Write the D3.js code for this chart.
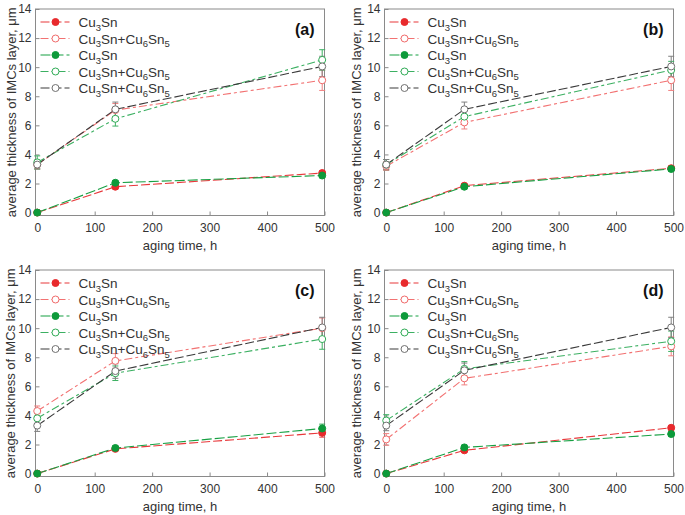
<!DOCTYPE html>
<html><head><meta charset="utf-8">
<script src="https://cdn.jsdelivr.net/npm/d3@7"></script>
<style>
html,body{margin:0;padding:0;background:#fff;}
svg{display:block;font-family:"Liberation Sans",Arial,sans-serif;}
</style></head>
<body><svg id="c" width="685" height="515"></svg>
<script>
// ---------------- data ----------------
const agingTimes = [0, 136, 496];                 // h
const xTicks = [0, 100, 200, 300, 400, 500];
const yTicks = [0, 2, 4, 6, 8, 10, 12, 14];
const panelLabels = ["(a)", "(b)", "(c)", "(d)"];
// legend names: [main text, subscript] pieces
const seriesNames = [
  [["Cu","3"],["Sn",""]],
  [["Cu","3"],["Sn+Cu","6"],["Sn","5"]],
  [["Cu","3"],["Sn",""]],
  [["Cu","3"],["Sn+Cu","6"],["Sn","5"]],
  [["Cu","3"],["Sn+Cu","6"],["Sn","5"]]
];
// series order: red Cu3Sn, red Cu3Sn+Cu6Sn5, green Cu3Sn, green Cu3Sn+Cu6Sn5, gray Cu3Sn+Cu6Sn5
const valuesA = [[0, 1.78, 2.72], [3.3, 7.05, 9.1], [0, 2.05, 2.55], [3.45, 6.45, 10.5], [3.3, 7.1, 10.05]];
const errorsA = [[0.05, 0.15, 0.15], [0.3, 0.45, 0.7], [0.05, 0.15, 0.15], [0.45, 0.5, 0.7], [0.3, 0.5, 0.7]];
const valuesB = [[0, 1.85, 3.05], [3.2, 6.2, 9.1], [0, 1.78, 3.0], [3.3, 6.6, 9.8], [3.3, 7.1, 10.05]];
const errorsB = [[0.05, 0.15, 0.15], [0.3, 0.45, 0.7], [0.05, 0.15, 0.15], [0.35, 0.45, 0.6], [0.35, 0.5, 0.7]];
const valuesC = [[0, 1.7, 2.8], [4.3, 7.75, 10.0], [0, 1.76, 3.1], [3.8, 6.9, 9.25], [3.3, 7.05, 10.05]];
const errorsC = [[0.05, 0.12, 0.3], [0.35, 0.5, 0.7], [0.05, 0.15, 0.3], [0.35, 0.5, 0.7], [0.4, 0.5, 0.7]];
const valuesD = [[0, 1.6, 3.15], [2.35, 6.55, 8.75], [0, 1.8, 2.72], [3.65, 7.2, 9.1], [3.3, 7.1, 10.05]];
const errorsD = [[0.05, 0.12, 0.15], [0.4, 0.45, 0.65], [0.05, 0.15, 0.15], [0.4, 0.5, 0.7], [0.35, 0.5, 0.7]];
const yTitle = "average thickness of IMCs layer, μm";
const xTitle = "aging time, h";

// ---------------- styling ----------------
const styles = [
  {line:"#e8383b", mk:"#e82a2d", fill:"#e82a2d", err:"#e8585a", dash:"9,3"},
  {line:"#f27272", mk:"#f06a6a", fill:"#fff",    err:"#f08080", dash:"8,3,3,3"},
  {line:"#17a043", mk:"#0d9a3a", fill:"#0d9a3a", err:"#2aa650", dash:"10,3"},
  {line:"#3cb062", mk:"#2fab55", fill:"#fff",    err:"#3cb062", dash:"8,3,3,3"},
  {line:"#3a3a3a", mk:"#707070", fill:"#fff",    err:"#808080", dash:"9,3"}
];
const panelValues = [valuesA, valuesB, valuesC, valuesD];
const panelErrors = [errorsA, errorsB, errorsC, errorsD];
const layout = [
  {left:35.5, top:9, ytx:-24},
  {left:384.5, top:9, ytx:-28},
  {left:35.5, top:270, ytx:-25},
  {left:384.5, top:270, ytx:-28}
];
const plotW = 289, plotH = 206.5;

const svg = d3.select("#c");

panelLabels.forEach((lab, pi) => {
  const L = layout[pi];
  const x = d3.scaleLinear().domain([-3, 500]).range([L.left, L.left + plotW]);
  const y = d3.scaleLinear().domain([-0.2, 14]).range([L.top + plotH, L.top]);
  const g = svg.append("g");

  // axes (inward ticks)
  const xa = g.append("g").attr("transform", `translate(0,${L.top + plotH})`)
    .call(d3.axisBottom(x).tickValues(xTicks).tickSize(-4).tickPadding(8).tickFormat(d3.format("d")));
  const ya = g.append("g").attr("transform", `translate(${L.left},0)`)
    .call(d3.axisLeft(y).tickValues(yTicks).tickSize(-4).tickPadding(4).tickFormat(d3.format("d")));
  [xa, ya].forEach(a => {
    a.attr("font-size", 12).attr("font-family", '"Liberation Sans",Arial,sans-serif');
    a.select(".domain").remove();
    a.selectAll(".tick line").attr("stroke", "#8a8a8a");
    a.selectAll(".tick text").attr("fill", "#333").attr("font-size", 12);
  });

  // frame
  g.append("rect").attr("x", L.left).attr("y", L.top).attr("width", plotW).attr("height", plotH)
    .attr("fill", "none").attr("stroke", "#8a8a8a").attr("stroke-width", 1);

  // titles
  g.append("text").attr("x", L.left + plotW / 2).attr("y", L.top + plotH + 34)
    .attr("text-anchor", "middle").attr("fill", "#333").attr("font-size", 13).text(xTitle);
  g.append("text").attr("transform", `translate(${L.left + L.ytx},${L.top + plotH / 2}) rotate(-90)`)
    .attr("text-anchor", "middle").attr("dy", "0.35em").attr("fill", "#333").attr("font-size", 13).text(yTitle);
  g.append("text").attr("x", L.left + plotW - 10).attr("y", L.top + 26)
    .attr("text-anchor", "end").attr("fill", "#111").attr("font-size", 16).attr("font-weight", "bold").text(lab);

  const vals = panelValues[pi], errs = panelErrors[pi];
  const line = d3.line().x((d, i) => x(agingTimes[i])).y(d => y(d));

  // error bars
  vals.forEach((sv, si) => {
    const st = styles[si];
    sv.forEach((v, i) => {
      const e = errs[si][i];
      if (e < 0.1) return;
      const cx = x(agingTimes[i]);
      g.append("line").attr("x1", cx).attr("x2", cx).attr("y1", y(v - e)).attr("y2", y(v + e))
        .attr("stroke", st.err).attr("stroke-width", 1);
      [v - e, v + e].forEach(t => g.append("line").attr("x1", cx - 3).attr("x2", cx + 3)
        .attr("y1", y(t)).attr("y2", y(t)).attr("stroke", st.err).attr("stroke-width", 1));
    });
  });
  // lines
  vals.forEach((sv, si) => {
    const st = styles[si];
    g.append("path").attr("d", line(sv)).attr("fill", "none").attr("stroke", st.line)
      .attr("stroke-width", 1.1).attr("stroke-dasharray", st.dash);
  });
  // markers
  vals.forEach((sv, si) => {
    const st = styles[si];
    sv.forEach((v, i) => {
      g.append("circle").attr("cx", x(agingTimes[i])).attr("cy", y(v)).attr("r", 3.5)
        .attr("fill", st.fill).attr("stroke", st.mk).attr("stroke-width", 1);
    });
  });

  // legend
  seriesNames.forEach((nm, si) => {
    const st = styles[si];
    const ly = L.top + 13 + si * 16.5;
    g.append("line").attr("x1", L.left + 5).attr("x2", L.left + 34).attr("y1", ly).attr("y2", ly)
      .attr("stroke", st.line).attr("stroke-width", 1.1).attr("stroke-dasharray", st.dash);
    g.append("circle").attr("cx", L.left + 20).attr("cy", ly).attr("r", 3.5)
      .attr("fill", st.fill).attr("stroke", st.mk).attr("stroke-width", 1);
    const t = g.append("text").attr("x", L.left + 43).attr("y", ly + 5).attr("fill", "#333").attr("font-size", 13.5);
    let shifted = false;
    nm.forEach(([main, sub]) => {
      t.append("tspan").attr("dy", shifted ? -3.5 : 0).text(main);
      shifted = false;
      if (sub) {
        t.append("tspan").attr("dy", 3.5).attr("font-size", 9.5).text(sub);
        shifted = true;
      }
    });
  });
});
</script></body></html>
